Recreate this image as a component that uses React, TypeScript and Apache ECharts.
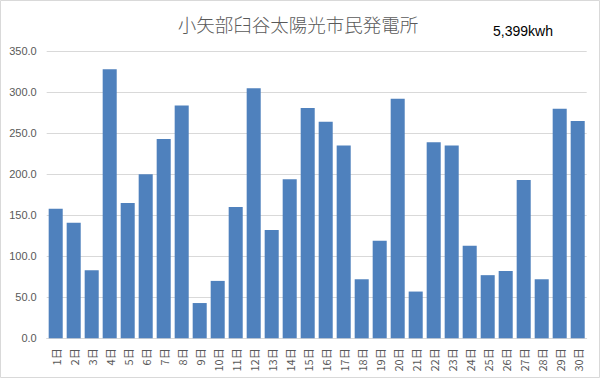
import React, { useEffect, useRef } from "react";
import * as echarts from "echarts";

const title = "小矢部臼谷太陽光市民発電所";
const totalLabel = "5,399kwh";
const days = Array.from({ length: 30 }, (_, i) => `${i + 1}日`);
const output = [
  158, 141, 83, 328, 165, 200, 243, 284, 43, 70,
  160, 305, 132, 194, 281, 264, 235, 72, 119, 292,
  57, 239, 235, 113, 77, 82, 193, 72, 280, 265,
];
const yTicks = { min: 0, max: 350, interval: 50 };

export default function App() {
  const ref = useRef<HTMLDivElement>(null);
  useEffect(() => {
    if (!ref.current) return;
    const chart = echarts.init(ref.current, undefined, { renderer: "svg" });
    const font = "'Noto Sans CJK JP', 'Liberation Sans', sans-serif";
    chart.setOption({
      animation: false,
      backgroundColor: "#ffffff",
      graphic: [
        {
          type: "rect",
          shape: { x: 0.5, y: 0.5, width: 599, height: 377 },
          style: { fill: "none", stroke: "#d9d9d9", lineWidth: 1 },
          silent: true,
        },
        {
          type: "text",
          x: 298,
          y: 24,
          style: {
            text: title,
            fontSize: 18.5,
            fontWeight: 300,
            fontFamily: font,
            fill: "#595959",
            align: "center",
            verticalAlign: "middle",
          },
        },
        {
          type: "text",
          x: 493,
          y: 31,
          style: {
            text: totalLabel,
            fontSize: 14,
            fontFamily: "'Liberation Sans', Arial, sans-serif",
            fill: "#000000",
            align: "left",
            verticalAlign: "middle",
          },
        },
      ],
      grid: { left: 46.7, right: 14.3, top: 51.3, bottom: 40.7, containLabel: false },
      xAxis: {
        type: "category",
        data: days,
        axisLine: { show: true, lineStyle: { color: "#d9d9d9", width: 1 } },
        axisTick: { show: false },
        axisLabel: {
          rotate: 90,
          interval: 0,
          margin: 10,
          fontSize: 11,
          fontFamily: font,
          color: "#595959",
        },
      },
      yAxis: {
        type: "value",
        min: yTicks.min,
        max: yTicks.max,
        interval: yTicks.interval,
        axisLine: { show: false },
        axisTick: { show: false },
        splitLine: { lineStyle: { color: "#d9d9d9", width: 1 } },
        axisLabel: {
          margin: 10,
          fontSize: 11,
          fontFamily: "'Liberation Sans', Arial, sans-serif",
          color: "#595959",
          formatter: (v: number) => v.toFixed(1),
        },
      },
      series: [
        {
          type: "bar",
          data: output,
          barCategoryGap: "22%",
          itemStyle: { color: "#4f81bd" },
        },
      ],
    });
    return () => chart.dispose();
  }, []);
  return (
    <div
      ref={ref}
      style={{ position: "fixed", left: 0, top: 0, width: 601, height: 379 }}
    />
  );
}
